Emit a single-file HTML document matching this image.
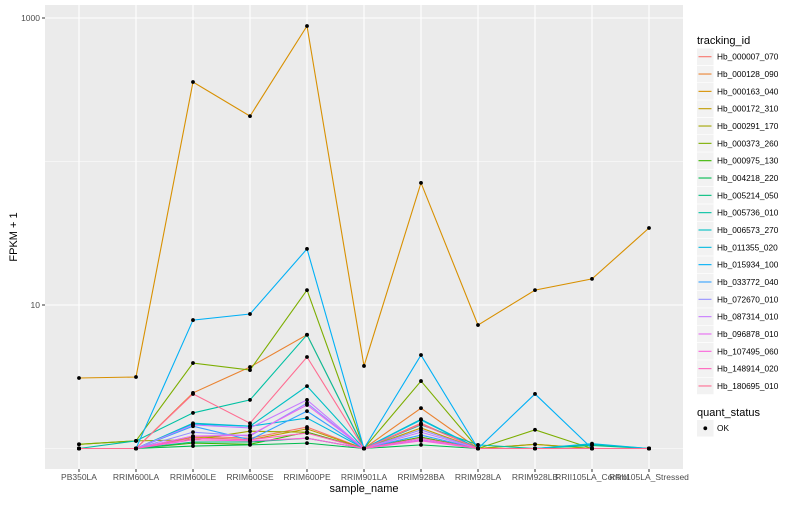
<!DOCTYPE html>
<html><head><meta charset="utf-8"><style>
body{margin:0;background:#fff;font-family:"Liberation Sans",sans-serif;}
svg text{font-family:"Liberation Sans",sans-serif;}
</style></head><body>
<svg id="chart" width="800" height="500" xmlns="http://www.w3.org/2000/svg">
<rect x="0" y="0" width="800" height="500" fill="#fff"/>
<rect x="45" y="5" width="638" height="464" fill="#EBEBEB"/>
<g id="grid"></g><g id="series"></g><g id="axes"></g><g id="legend"></g>
</svg>
<script>
const categories=["PB350LA","RRIM600LA","RRIM600LE","RRIM600SE","RRIM600PE","RRIM901LA","RRIM928BA","RRIM928LA","RRIM928LB","RRII105LA_Control","RRII105LA_Stressed"];
const seriesNames=["Hb_000007_070","Hb_000128_090","Hb_000163_040","Hb_000172_310","Hb_000291_170","Hb_000373_260","Hb_000975_130","Hb_004218_220","Hb_005214_050","Hb_005736_010","Hb_006573_270","Hb_011355_020","Hb_015934_100","Hb_033772_040","Hb_072670_010","Hb_087314_010","Hb_096878_010","Hb_107495_060","Hb_148914_020","Hb_180695_010"];
const seriesColors=["#F8766D","#EA8331","#D89000","#C09B00","#A3A500","#7CAE00","#39B600","#00BB4E","#00BF7D","#00C1A3","#00BFC4","#00BAE0","#00B0F6","#35A2FF","#9590FF","#C77CFF","#E76BF3","#FA62DB","#FF62BC","#FF6C91"];
const s0=[1,1,1.22,1.18,1.41,1,1.5,1,1,1,1];
const s1=[1,1,2.44,3.7,6.2,1,1.91,1,1.07,1,1];
const s2=[3.1,3.15,358,207,880,3.76,71,7.25,12.7,15.2,34.4];
const s3=[1,1,1.2,1.15,1.37,1,1.39,1,1,1,1];
const s4=[1.07,1.13,1.15,1.32,1.3,1,1.2,1,1.07,1,1];
const s5=[1.07,1.13,3.94,3.52,12.7,1,2.95,1,1.35,1,1];
const s6=[1,1,1.09,1.07,1.3,1,1.2,1,1,1,1];
const s7=[1,1,1.04,1.06,1.09,1,1.06,1,1,1,1];
const s8=[1,1,1.11,1.11,1.18,1,1.15,1,1,1.05,1];
const s9=[1,1.13,1.77,2.18,6.2,1,1.46,1.06,1,1.07,1];
const s10=[1,1,1.5,1.43,2.72,1,1.6,1,1,1,1];
const s11=[1,1,1.48,1.43,1.63,1,1.58,1,1,1.08,1];
const s12=[1,1,7.85,8.65,24.6,1,4.48,1,2.4,1,1];
const s13=[1,1,1.43,1.15,1.82,1,1.24,1,1,1,1];
const s14=[1,1,1.3,1.22,2.07,1,1.35,1,1,1,1];
const s15=[1,1,1.46,1.39,2.18,1,1.3,1,1,1,1];
const s16=[1,1,1.22,1.24,2.01,1,1.15,1,1,1,1];
const s17=[1,1,1.15,1.13,1.18,1,1.13,1,1,1,1];
const s18=[1,1,1.18,1.15,1.28,1,1.18,1,1,1,1];
const s19=[1,1,2.4,1.5,4.34,1,1.48,1,1,1,1];
const seriesValues=[s0,s1,s2,s3,s4,s5,s6,s7,s8,s9,s10,s11,s12,s13,s14,s15,s16,s17,s18,s19];
const yTicks=[10,1000];
const yMinor=[1,100];
const NS="http://www.w3.org/2000/svg";
function xS(i){return 79+i*57.0;}
function yS(v){return 448.5-143.5*Math.log10(v);}
function mk(tag,attrs,parent){const e=document.createElementNS(NS,tag);for(const k in attrs)e.setAttribute(k,attrs[k]);parent.appendChild(e);return e;}
const grid=document.getElementById('grid'),ser=document.getElementById('series'),ax=document.getElementById('axes'),lg=document.getElementById('legend');
yMinor.forEach(v=>{const l=mk('line',{x1:45,x2:683,y1:yS(v),y2:yS(v),stroke:'#fff','stroke-width':0.5},grid);

});
yTicks.forEach(v=>{const l=mk('line',{x1:45,x2:683,y1:yS(v),y2:yS(v),stroke:'#fff','stroke-width':1.1},grid);


const t=mk('line',{x1:42,x2:45,y1:yS(v),y2:yS(v),stroke:'#333','stroke-width':1},ax);


const tx=mk('text',{x:40,y:yS(v)+3,'text-anchor':'end','font-size':8.5,fill:'#4D4D4D'},ax);tx.textContent=v;

});
categories.forEach((c,i)=>{const l=mk('line',{x1:xS(i),x2:xS(i),y1:5,y2:469,stroke:'#fff','stroke-width':1.1},grid);


const t=mk('line',{x1:xS(i),x2:xS(i),y1:469,y2:472,stroke:'#333'},ax);


const tx=mk('text',{x:xS(i),y:480,'text-anchor':'middle','font-size':8.5,fill:'#4D4D4D'},ax);tx.textContent=c;

});
seriesValues.forEach((vals,si)=>{const d=vals.map((v,i)=>(i?'L':'M')+xS(i)+','+yS(v)).join(' ');
const p=mk('path',{d:d,fill:'none',stroke:seriesColors[si],'stroke-width':1.1},ser);

});
seriesValues.forEach((vals,si)=>{vals.forEach((v,i)=>{const r=mk('circle',{cx:xS(i),cy:yS(v),r:1.9,fill:'#000'},ser);

});});
const xt=mk('text',{x:364,y:492,'text-anchor':'middle','font-size':11,fill:'#000'},ax);xt.textContent='sample_name';


const yt=mk('text',{x:0,y:0,'text-anchor':'middle','font-size':11,fill:'#000',transform:'translate(17,237) rotate(-90)'},ax);yt.textContent='FPKM + 1';


const lt=mk('text',{x:697,y:44,'font-size':11,fill:'#000'},lg);lt.textContent='tracking_id';


seriesNames.forEach((n,i)=>{const cy=56.7+i*17.33;
const g=mk('g',{},lg);


mk('rect',{x:697,y:cy-8.3,width:16.6,height:16.6,fill:'#F2F2F2'},g);
mk('line',{x1:698.5,x2:711.5,y1:cy,y2:cy,stroke:seriesColors[i],'stroke-width':1.1},g);
const t=mk('text',{x:717,y:cy+3,'font-size':8.3,fill:'#000'},g);t.textContent=n;});
const qt=mk('text',{x:697,y:416,'font-size':11,fill:'#000'},lg);qt.textContent='quant_status';


const qg=mk('g',{},lg);


mk('rect',{x:697,y:420,width:16.6,height:16.6,fill:'#F2F2F2'},qg);
mk('circle',{cx:705.3,cy:428.3,r:1.9,fill:'#000'},qg);
const ok=mk('text',{x:717,y:431,'font-size':8.3,fill:'#000'},qg);ok.textContent='OK';
</script>
</body></html>
